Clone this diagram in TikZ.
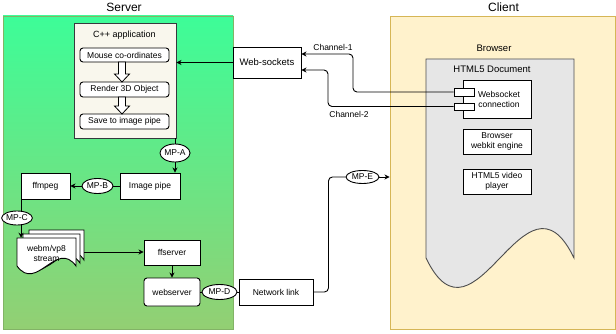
\documentclass[tikz,border=0pt]{standalone}
\usepackage{fontspec}
\setmainfont{Liberation Sans}
\usetikzlibrary{arrows.meta,shapes.geometric}

\definecolor{srvtop}{HTML}{3DFD98}
\definecolor{srvbot}{HTML}{93CF73}
\definecolor{srvline}{HTML}{82B366}
\definecolor{clifill}{HTML}{FFF2CC}
\definecolor{cliline}{HTML}{D6B656}
\definecolor{appfill}{HTML}{F9F7ED}
\definecolor{appline}{HTML}{36393D}
\definecolor{docfill}{HTML}{E6E6E6}
\definecolor{docline}{HTML}{4D4D4D}

\tikzset{
  box/.style={draw, fill=white, line width=0.9pt, align=center, inner sep=1pt,
    font=\fontsize{8.5}{10}\selectfont},
  rbox/.style={box, rounded corners=3pt},
  mp/.style={ellipse, draw, fill=white, line width=0.9pt, inner sep=0pt,
    minimum width=30pt, minimum height=15pt, font=\fontsize{8.5}{10}\selectfont},
  link/.style={line width=0.9pt},
  arr/.style={link, -{Stealth[length=5pt,width=5pt,inset=1.5pt]}},
  lbl/.style={font=\fontsize{8.5}{10}\selectfont, align=center},
  blockarrow/.style={draw, fill=white, line width=0.8pt, line join=miter},
}

\begin{document}
\begin{tikzpicture}[x=1pt,y=-1pt]
  \useasboundingbox (0,0) rectangle (616,334);

  % Server side
  \node [draw=srvline, top color=srvtop, bottom color=srvbot, minimum width=230pt,
    minimum height=313pt, inner sep=0pt] (server) at (118,172.5) {};
  \node [font=\fontsize{12}{14}\selectfont] (servertitle) at (124,7) {Server};

  % Client side
  \node [draw=cliline, fill=clifill, line width=0.9pt, minimum width=225pt,
    minimum height=313pt, inner sep=0pt] (client) at (502.5,172.5) {};
  \node [font=\fontsize{12}{14}\selectfont] (clienttitle) at (503.5,7) {Client};

  % C++ application with its three steps
  \node [draw=appline, fill=appfill, line width=0.9pt, minimum width=102pt,
    minimum height=115pt, inner sep=0pt] (app) at (125,80.5) {};
  \node [font=\fontsize{9}{11}\selectfont] (apptitle) at (124.5,35) {C++ application};
  \node [rbox, minimum width=89pt, minimum height=14pt] (mouse) at (124.5,55) {Mouse co-ordinates};
  \node [rbox, minimum width=89pt, minimum height=15pt] (render) at (124.5,89.5) {Render 3D Object};
  \node [rbox, minimum width=89pt, minimum height=15pt] (save) at (124.5,121.5) {Save to image pipe};
  % hollow arrows between the steps: top / start of head / tip
  \foreach \top/\neck/\tip in {62/74/82, 97/106/114}
    \draw [blockarrow] (118.5,\top) -- (125.5,\top) -- (125.5,\neck) -- (129.5,\neck)
      -- (122,\tip) -- (114.5,\neck) -- (118.5,\neck) -- cycle;

  % Web-sockets and the two channels
  \node [box, minimum width=68pt, minimum height=31pt,
    font=\fontsize{9.5}{11}\selectfont] (websockets) at (267,62.5) {Web-sockets};
  \draw [arr] (websockets.west) -- (websockets.west -| app.east);

  % Browser document
  \node [font=\fontsize{9.5}{11}\selectfont] (browser) at (494,48) {Browser};
  \draw [draw=docline, fill=docfill, line width=0.9pt] (426,59) -- (574,59) -- (574,258)
    .. controls (525,156) and (475,360) .. (426,258) -- cycle;
  \node [font=\fontsize{9.5}{11}\selectfont] (doctitle) at (492,69) {HTML5 Document};

  \node [box, minimum width=68pt, minimum height=38pt] (wsconn) at (497,99) {};
  \node [lbl] (wstext) at (499,99) {Websocket\\connection};
  \node [box, minimum width=20pt, minimum height=8pt] (portA) at (464,92) {};
  \node [box, minimum width=20pt, minimum height=7pt] (portB) at (464,106.5) {};
  \node [box, minimum width=68pt, minimum height=25pt] (webkit) at (497,141.5) {Browser\\webkit engine};
  \node [box, minimum width=68pt, minimum height=25pt] (player) at (497,181.5) {HTML5 video\\player};

  \draw [arr, rounded corners=4pt] (portA.west) -| (353,54) -- ([yshift=8.5pt]websockets.east);
  \draw [arr, rounded corners=4pt] (portB.west) -| (328,70) -- ([yshift=-7.5pt]websockets.east);
  \node [lbl] (chanA) at (333,47) {Channel-1};
  \node [lbl] (chanB) at (349,114) {Channel-2};

  % Encoding pipeline
  \node [box, minimum width=60pt, minimum height=26pt] (imagepipe) at (150,186) {Image pipe};
  \node [box, minimum width=49pt, minimum height=26pt] (ffmpeg) at (45.5,186) {ffmpeg};
  \node [mp, minimum width=27pt, minimum height=18pt] (mpa) at (175,153) {MP-A};
  \node [mp, minimum width=31pt, minimum height=15pt] (mpb) at (97.5,186) {MP-B};
  \node [mp, minimum width=28pt, minimum height=14pt] (mpc) at (17,218) {MP-C};

  \draw [link] ([xshift=-1pt]app.south east) -- ([xshift=-1pt]app.south east |- mpa.north);
  \draw [arr] (mpa.south) -- (mpa.south |- imagepipe.north);
  \draw [link] (imagepipe.west) -- (mpb.east);
  \draw [arr] (mpb.west) -- (ffmpeg.east);

  % Stream file, three stacked sheets
  \draw [fill=white, line width=0.9pt] (29,230) -- (84,230) -- (84,260)
    .. controls (65.7,233) and (47.3,287) .. (29,260) -- cycle;
  \draw [fill=white, line width=0.9pt] (23,234) -- (80,234) -- (80,263)
    .. controls (61,236) and (42,290) .. (23,263) -- cycle;
  \draw [fill=white, line width=0.9pt] (17,238) -- (76,238) -- (76,266)
    .. controls (56.3,239) and (36.7,293) .. (17,266) -- cycle;
  \node [lbl, minimum width=59pt, minimum height=30pt, inner sep=0pt] (stream) at (46.5,253) {webm/vp8\\stream};
  \coordinate (streamout) at (84,252);

  \draw [link] ([xshift=0.5pt]ffmpeg.south west) -- ([xshift=0.5pt]ffmpeg.south west |- mpc.north);
  \draw [arr] ([xshift=0.5pt]ffmpeg.south west |- mpc.south) -- ([xshift=0.5pt]ffmpeg.south west |- stream.north);

  % Streaming server
  \node [box, minimum width=56pt, minimum height=25pt] (ffserver) at (172,252.5) {ffserver};
  \node [rbox, minimum width=56pt, minimum height=28pt] (webserver) at (172,292) {webserver};
  \draw [arr] (streamout) -- (streamout -| ffserver.west);
  \draw [arr] (ffserver.south) -- (webserver.north);

  % Network link to the client
  \node [box, minimum width=74pt, minimum height=26pt] (netlink) at (276,292) {Network link};
  \node [mp, minimum width=35pt, minimum height=15pt] (mpd) at (219.5,292) {MP-D};
  \node [mp, minimum width=33pt, minimum height=13pt] (mpe) at (362.5,177) {MP-E};

  \draw [link] (webserver.east) -- (mpd.west);
  \draw [link] (mpd.east) -- (netlink.west);
  \draw [link, rounded corners=4pt] (netlink.east) -- ++(15,0) |- (mpe.west);
  \draw [arr] (mpe.east) -- (mpe.east -| client.west);
\end{tikzpicture}
\end{document}
